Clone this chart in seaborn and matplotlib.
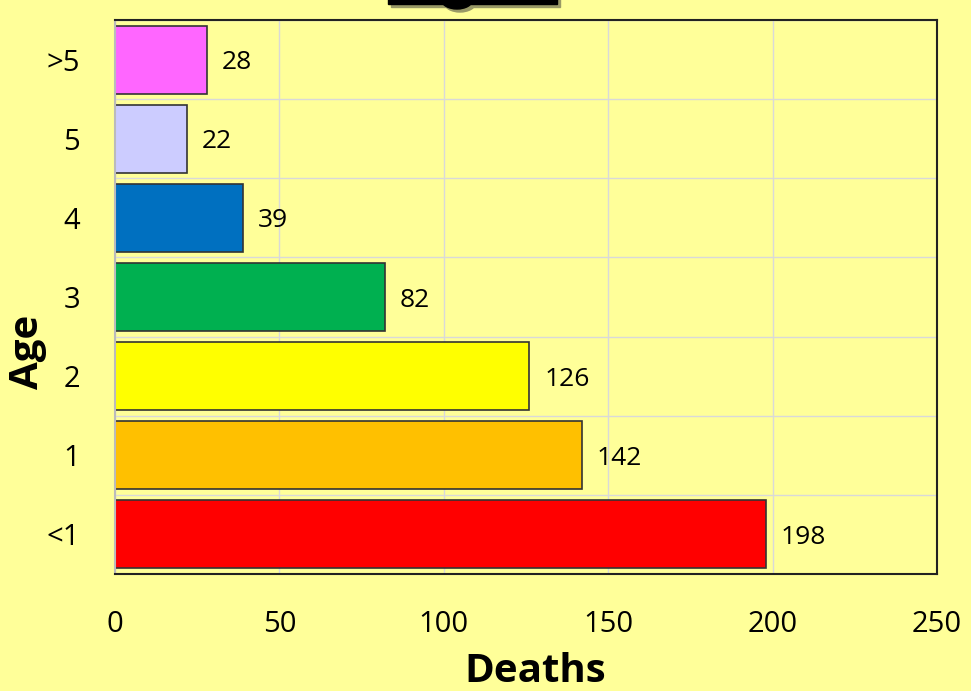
import matplotlib
matplotlib.use("Agg")
import matplotlib.pyplot as plt
import matplotlib.patches as mpatches
import pandas as pd
import seaborn as sns

# Data
ages = [">5", "5", "4", "3", "2", "1", "<1"]
deaths = [28, 22, 39, 82, 126, 142, 198]
bar_colors = ["#FF66FF", "#CCCCFF", "#0070C0", "#00B050", "#FFFF00", "#FFC000", "#FF0000"]
x_ticks = [0, 50, 100, 150, 200, 250]

df = pd.DataFrame({"Age": ages, "Deaths": deaths})

sns.set_style("white")
plt.rcParams["font.family"] = ["Open Sans", "DejaVu Sans"]
plt.rcParams["text.color"] = "black"
plt.rcParams["axes.labelcolor"] = "black"
plt.rcParams["xtick.color"] = "black"
plt.rcParams["ytick.color"] = "black"

bg = "#FFFF99"
W, H = 971, 691
fig = plt.figure(figsize=(W / 100, H / 100), dpi=100, facecolor=bg)
ax = fig.add_axes([115 / W, 1 - 574 / H, (937 - 115) / W, (574 - 20) / H])
ax.set_facecolor(bg)

sns.barplot(data=df, x="Deaths", y="Age", order=ages, hue="Age",
            palette=dict(zip(ages, bar_colors)), legend=False,
            width=0.86, edgecolor="#333333", linewidth=1.2, saturation=1, ax=ax)

# Value labels
for i, v in enumerate(deaths):
    ax.text(v + 4.5, i, str(v), va="center_baseline", ha="left", fontsize=19, color="black")

ax.set_xlim(0, 250)
ax.set_ylim(6.5, -0.5)
ax.set_xticks(x_ticks)
ax.set_xticklabels([str(t) for t in x_ticks], fontsize=21)
ax.set_yticks(range(len(ages)))
ax.set_yticklabels(ages, fontsize=21)
ax.tick_params(axis="y", length=0, pad=25)
ax.tick_params(axis="x", length=0, pad=26)

# Grid
ax.set_yticks([i + 0.5 for i in range(-1, len(ages))], minor=True)
ax.grid(True, which="major", axis="x", color="#D9D9D9", linewidth=1)
ax.grid(True, which="minor", axis="y", color="#D9D9D9", linewidth=1)
ax.tick_params(which="minor", length=0)
ax.set_axisbelow(True)

for side in ["top", "right", "bottom"]:
    ax.spines[side].set_color("#222222")
    ax.spines[side].set_linewidth(1.5)
ax.spines["left"].set_color("#BBBBBB")
ax.spines["left"].set_linewidth(1.5)

ax.set_xlabel("Deaths", fontsize=29, fontweight="bold")
ax.set_ylabel("Age", fontsize=29, fontweight="bold")
ax.xaxis.set_label_coords((535 - 115) / (937 - 115), -(652 - 574) / (574 - 20))
ax.yaxis.set_label_coords(-(115 - 47) / (937 - 115), (574 - 352) / (574 - 20))

# Cut-off title box at the top edge
def fx(px):
    return px / W

def fy(py):
    return 1 - py / H

for dx, dy, col in [(3, 3, "#999966"), (0, 0, "black")]:
    fig.patches.append(mpatches.Rectangle((fx(388 + dx), fy(4 + dy)), fx(169), 4 / H + 0.01,
                                          transform=fig.transFigure, color=col, zorder=5))
    fig.patches.append(mpatches.Ellipse((fx(457 + dx), fy(0 + dy)), fx(31), 18 / H,
                                        transform=fig.transFigure, color=col, zorder=5))

fig.savefig("out.png", dpi=100, facecolor=bg)
